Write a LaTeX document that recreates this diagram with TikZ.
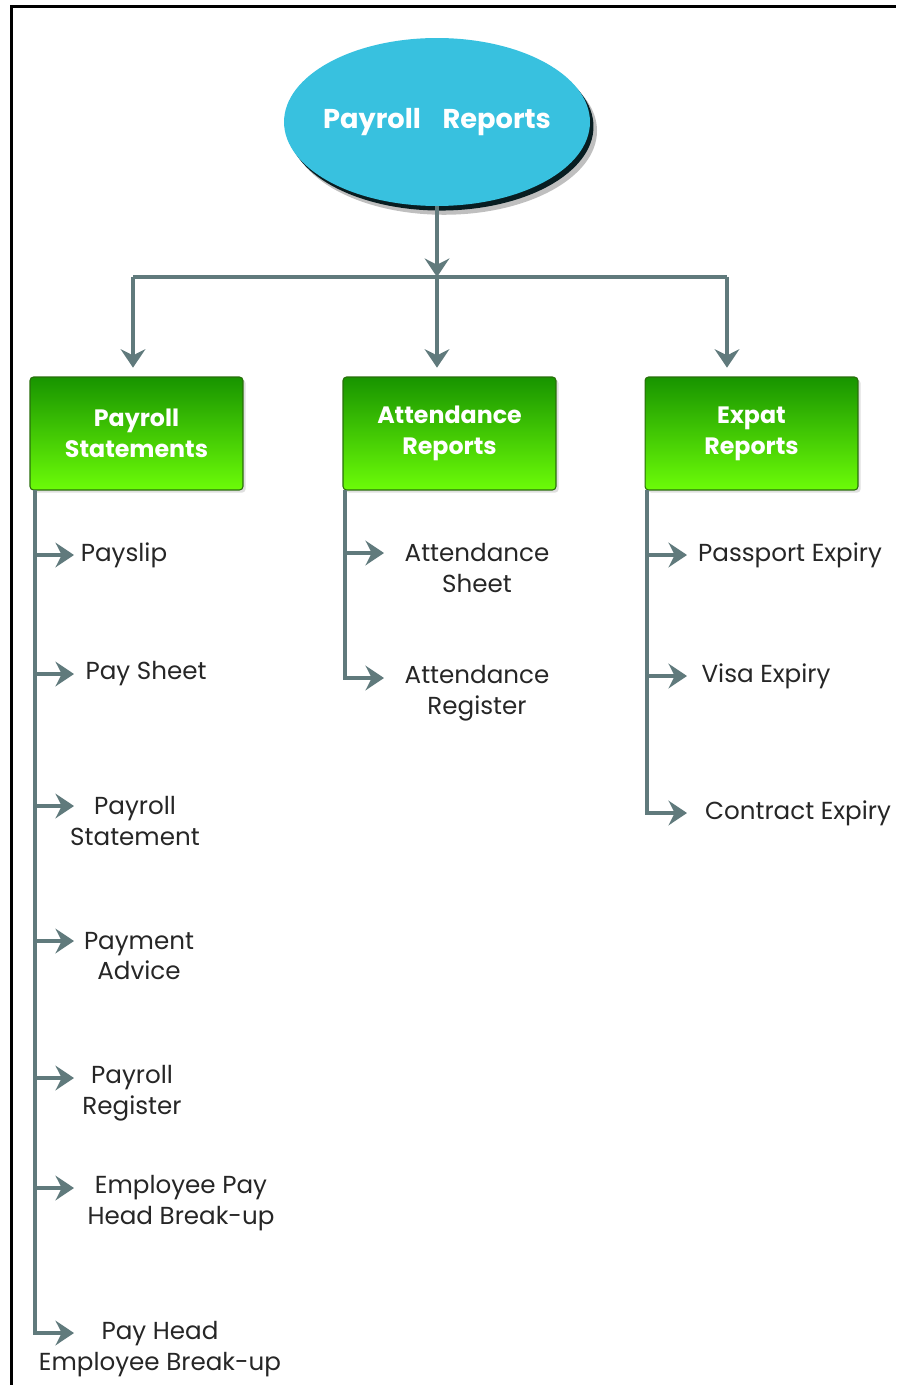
\documentclass[tikz,border=0pt]{standalone}
\usepackage{fontspec}
\setmainfont{Poppins}
\usetikzlibrary{arrows.meta,shapes.geometric,shadows}
\definecolor{linegray}{RGB}{96,122,124}
\definecolor{ballcyan}{RGB}{56,193,223}
\definecolor{boxtop}{RGB}{24,148,0}
\definecolor{boxbottom}{RGB}{108,252,8}
\definecolor{boxedge}{RGB}{40,110,10}

\tikzset{
  conn/.style={draw=linegray,line width=2.7pt},
  tip/.style={-{Stealth[length=10.5pt,width=14pt,inset=3.5pt]}},
  root/.style={ellipse,inner ysep=0pt,inner xsep=-8pt,minimum width=6.12cm,minimum height=3.36cm,
    fill=ballcyan,
    general shadow={fill=black,opacity=.25,shadow xshift=4pt,shadow yshift=-5pt},
    general shadow={fill=ballcyan!15!black,shadow xshift=2pt,shadow yshift=-2.6pt},
    text=white,font=\fontsize{15.5}{18}\selectfont\bfseries},
  head/.style={rectangle,rounded corners=2pt,draw=boxedge,line width=.6pt,
    top color=boxtop,bottom color=boxbottom,
    drop shadow={opacity=.25,shadow xshift=1.5pt,shadow yshift=-1.5pt},
    minimum width=4.26cm,minimum height=2.26cm,align=center,
    text=white,font=\fontsize{13.5}{17.6}\selectfont\bfseries},
  item/.style={align=center,inner sep=0pt,text=black!85,
    font=\fontsize{14}{17.6}\selectfont}
}

\begin{document}
\begin{tikzpicture}[x=0.02cm,y=-0.02cm]
\useasboundingbox (0,0) rectangle (896,1385);
\draw[line width=2.2pt] (11.5,1385) -- (11.5,6.5) -- (896,6.5);

\node[root] (root) at (437,122) {Payroll\hspace{.8em}Reports};

\coordinate (busL) at (133,277);
\coordinate (busC) at (437,277);
\coordinate (busR) at (727,277);

\node[head] (stm) at (136.5,433.5) {Payroll\\Statements};
\node[head] (att) at (449.5,433.5) {Attendance\\Reports};
\node[head] (exp) at (751.5,433.5) {Expat\\Reports};

\draw[conn,tip] (root.south) -- (busC);
\draw[conn] (busL) -- (busR);
\draw[conn,tip,shorten >=5pt] (busL) -- (busL |- stm.north);
\draw[conn,tip,shorten >=5pt] (busC) -- (busC |- att.north);
\draw[conn,tip,shorten >=5pt] (busR) -- (busR |- exp.north);

% payroll statements
\node[item] (payslip) at (124,555) {Payslip};
\node[item] (paysheet) at (146,674) {Pay Sheet};
\node[item] (pstatement) at (135,821) {Payroll\\Statement};
\node[item] (advice) at (139,956) {Payment\\Advice};
\node[item] (pregister) at (132,1093) {Payroll\\Register};
\node[item] (breakA) at (181,1203) {Employee Pay\\Head Break-up};
\node[item] (breakB) at (160,1349) {Pay Head\\Employee Break-up};
\coordinate (trunkA) at (35,490);
\coordinate (endA) at (74,1333);
\draw[conn,tip] (trunkA) |- (endA);
\foreach \y in {555,674,806,941,1078,1188}
  \draw[conn,tip] (trunkA |- 0,\y) -- (74,\y);

% attendance reports
\node[item] (asheet) at (477,568) {Attendance\\Sheet};
\node[item] (aregister) at (477,693) {Attendance\\Register};
\coordinate (trunkB) at (345,490);
\coordinate (endB) at (384,678);
\draw[conn,tip] (trunkB) |- (endB);
\draw[conn,tip] (trunkB |- 0,553) -- (384,553);

% expat reports
\node[item] (passport) at (790,555) {Passport Expiry};
\node[item] (visa) at (766,676) {Visa Expiry};
\node[item] (contract) at (798,813) {Contract Expiry};
\coordinate (trunkC) at (647,490);
\coordinate (endC) at (687,813);
\draw[conn,tip] (trunkC) |- (endC);
\foreach \y in {555,676}
  \draw[conn,tip] (trunkC |- 0,\y) -- (687,\y);

\end{tikzpicture}
\end{document}
